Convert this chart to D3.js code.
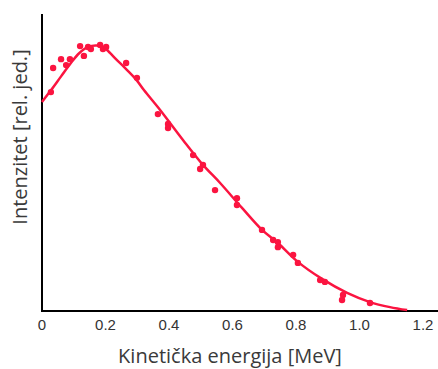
<!DOCTYPE html>
<meta charset="utf-8">
<head>
    <script src="https://d3js.org/d3.v7.min.js"></script>
    <style>
        body { margin: 0; background: white; }
        .tick-label { font-family: "Liberation Sans", Arial, sans-serif; font-size: 15px; fill: #333; }
        .axis-title { font-family: "Open Sans", sans-serif; font-size: 20px; fill: #3a3a3a; }
    </style>
</head>
<body>
<div class="viz"></div>
<script>
    // fitted curve (energy in MeV, relative intensity)
    var curveE = [0, 0.028, 0.060, 0.091, 0.117, 0.145, 0.173, 0.198, 0.214, 0.233, 0.258, 0.296, 0.321, 0.372, 0.444, 0.507, 0.561, 0.630, 0.693, 0.743, 0.803, 0.882, 0.961, 1.033, 1.096, 1.150];
    var curveI = [0.704, 0.743, 0.790, 0.835, 0.868, 0.889, 0.894, 0.885, 0.869, 0.848, 0.822, 0.780, 0.744, 0.677, 0.576, 0.492, 0.431, 0.347, 0.273, 0.229, 0.168, 0.108, 0.061, 0.030, 0.013, 0.003];

    // measured points
    var pointE = [0.028, 0.035, 0.060, 0.076, 0.088, 0.120, 0.132, 0.145, 0.154, 0.183, 0.192, 0.202, 0.265, 0.299, 0.365, 0.397, 0.397, 0.476, 0.507, 0.498, 0.545, 0.614, 0.614, 0.693, 0.728, 0.743, 0.743, 0.791, 0.806, 0.876, 0.891, 0.948, 0.945, 1.033];
    var pointI = [0.737, 0.818, 0.848, 0.828, 0.848, 0.892, 0.859, 0.889, 0.882, 0.896, 0.882, 0.889, 0.835, 0.785, 0.663, 0.630, 0.616, 0.525, 0.492, 0.478, 0.407, 0.380, 0.357, 0.273, 0.239, 0.232, 0.215, 0.189, 0.162, 0.104, 0.098, 0.054, 0.037, 0.027];

    var xTicks = [0, 0.2, 0.4, 0.6, 0.8, 1.0, 1.2];
    var xTickLabels = ["0", "0.2", "0.4", "0.6", "0.8", "1.0", "1.2"];

    var width = 438, height = 369;
    var red = "#fb1440";

    var x = d3.scaleLinear().domain([0, 1]).range([42, 359.5]);
    var y = d3.scaleLinear().domain([0, 1]).range([311, 14]);

    var svg = d3.select("div.viz").append("svg")
        .attr("width", width)
        .attr("height", height);

    // axes lines
    svg.append("line")
        .attr("x1", x(0)).attr("x2", x(0))
        .attr("y1", y(1)).attr("y2", y(0))
        .style("stroke", "black").style("stroke-width", 2);
    svg.append("line")
        .attr("x1", x(0) - 1).attr("x2", width)
        .attr("y1", y(0)).attr("y2", y(0))
        .style("stroke", "black").style("stroke-width", 2);

    svg.selectAll("text.tick-label")
        .data(xTicks)
        .enter().append("text")
        .attr("class", "tick-label")
        .attr("x", function(d) { return x(d); })
        .attr("y", 330)
        .attr("text-anchor", "middle")
        .text(function(d, i) { return xTickLabels[i]; });

    svg.append("text")
        .attr("class", "axis-title")
        .attr("x", 230)
        .attr("y", 363)
        .attr("text-anchor", "middle")
        .text("Kinetička energija [MeV]");

    svg.append("text")
        .attr("class", "axis-title")
        .attr("transform", "translate(27,137) rotate(-90)")
        .attr("text-anchor", "middle")
        .text("Intenzitet [rel. jed.]");

    var line = d3.line()
        .x(function(d) { return x(curveE[d]); })
        .y(function(d) { return y(curveI[d]); })
        .curve(d3.curveCatmullRom.alpha(0.5));

    svg.append("path")
        .attr("d", line(d3.range(curveE.length)))
        .style("fill", "none")
        .style("stroke", red)
        .style("stroke-width", 2.5);

    svg.selectAll("circle")
        .data(d3.range(pointE.length))
        .enter().append("circle")
        .attr("cx", function(d) { return x(pointE[d]); })
        .attr("cy", function(d) { return y(pointI[d]); })
        .attr("r", 3.2)
        .style("fill", red);
</script>
</body>
